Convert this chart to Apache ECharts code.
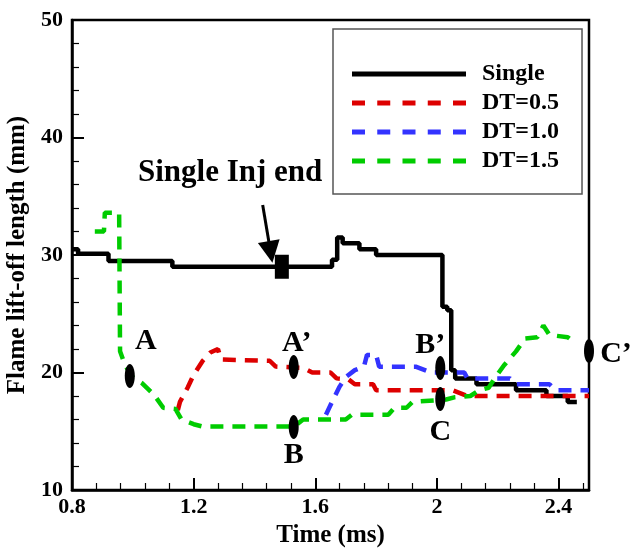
<!DOCTYPE html>
<html><head><meta charset="utf-8">
<script src="https://cdn.jsdelivr.net/npm/echarts@6/dist/echarts.min.js"></script>
<style>html,body{margin:0;padding:0;background:#fff}#c{width:630px;height:548px}</style>
</head><body><div id="c"></div>
<script>
// ---- data ----
const seriesNames = ['Single', 'DT=0.5', 'DT=1.0', 'DT=1.5'];
const singleData = [[0.8,30.5],[0.82,30.1],[0.92,29.5],[1.13,29.0],[1.655,29.6],[1.672,31.5],[1.69,31.0],[1.745,30.5],[1.80,30.0],[2.018,25.6],[2.034,25.3],[2.047,20.2],[2.06,19.5],[2.13,19.0],[2.26,18.5],[2.36,18.0],[2.43,17.5],[2.46,17.5]];
const dt05Data = [[1.148,16.8],[1.155,17.5],[1.18,18.7],[1.20,19.8],[1.23,21.0],[1.255,21.7],[1.28,22.0],[1.29,21.1],[1.45,21.0],[1.47,20.5],[1.56,20.4],[1.59,20.0],[1.65,20.0],[1.67,19.5],[1.71,19.4],[1.73,19.0],[1.79,19.0],[1.80,18.5],[2.05,18.5],[2.10,18.0],[2.5,18.0]];
const dt10Data = [[1.635,16.4],[1.655,17.5],[1.68,18.8],[1.70,19.6],[1.73,20.2],[1.76,20.5],[1.77,21.5],[1.80,21.5],[1.81,20.5],[1.93,20.5],[1.98,20.0],[2.09,20.0],[2.10,19.5],[2.24,19.5],[2.26,19.0],[2.37,19.0],[2.39,18.5],[2.5,18.5]];
const dt15Data = [[0.875,32.0],[0.905,32.0],[0.908,33.6],[0.955,33.6],[0.958,21.8],[0.975,20.6],[1.0,19.6],[1.03,19.1],[1.07,18.1],[1.10,17.0],[1.14,16.9],[1.16,16.0],[1.20,15.6],[1.23,15.4],[1.53,15.4],[1.56,16.0],[1.70,16.0],[1.72,16.4],[1.84,16.4],[1.86,17.0],[1.90,17.0],[1.92,17.5],[2.03,17.7],[2.06,17.9],[2.11,18.0],[2.14,18.5],[2.17,18.7],[2.19,19.5],[2.22,20.6],[2.26,21.8],[2.29,22.9],[2.33,23.0],[2.35,24.0],[2.37,23.2],[2.43,23.0],[2.45,22.6]];
const markerNames = ['A', 'A\u2019', 'B', 'B\u2019', 'C', 'C\u2019'];
const markerValues = [[0.99,19.7],[1.529,20.47],[1.529,15.36],[2.011,20.38],[2.011,17.74],[2.5,21.83]];
const injEndPoint = [[1.49,29.0]];
const injEndText = 'Single Inj end';
const injEndTextPos = [[1.32,37.0]];
const arrowFrom = [1.427,34.26];
const arrowTo = [1.453,30.26];
const xMajorTicks = [0.8,1.2,1.6,2.0,2.4];
const xMinorTicks = [0.88,0.96,1.04,1.12,1.28,1.36,1.44,1.52,1.68,1.76,1.84,1.92,2.08,2.16,2.24,2.32,2.48];
const xTitle = 'Time (ms)';
const yTitle = 'Flame lift-off length (mm)';

// ---- styles ----
const FONT = 'Liberation Serif';
const markerLabelOffsets = [[16,-35],[3,-24],[0,28],[-10,-23],[0,33],[27,3]];
const ellipse = 'path://M5,0 C7.76,0 10,5.37 10,12 C10,18.63 7.76,24 5,24 C2.24,24 0,18.63 0,12 C0,5.37 2.24,0 5,0 Z';
const dash = [13,9];
const dashIcon = 'path://M0,0H13V5H0Z M25.25,0H38.25V5H25.25Z M50.5,0H63.5V5H50.5Z M75.75,0H88.75V5H75.75Z M101,0H114V5H101Z';
const legendIcons = ['rect', dashIcon, dashIcon, dashIcon];

const chart = echarts.init(document.getElementById('c'), null, {renderer:'canvas'});
const option = {
  animation: false,
  grid: {left:72, right:41, top:20, bottom:58, outerBoundsMode:'none', containLabel:false,
         show:true, borderColor:'#000', borderWidth:2.5, backgroundColor:'transparent'},
  legend: {
    data: seriesNames.map((n,i)=>({name:n, icon:legendIcons[i]})), orient:'vertical', left:333, top:29,
    padding:[33,23,21,19], itemWidth:114, itemHeight:5, itemGap:5,
    borderColor:'#555', borderWidth:1.5, backgroundColor:'#fff',
    textStyle:{fontFamily:FONT, fontWeight:'bold', fontSize:24, color:'#000', padding:[0,0,0,11]}
  },
  xAxis: [{
    type:'value', min:0.8, max:2.5, position:'bottom',
    axisLine:{show:true, lineStyle:{color:'#000', width:2.5}},
    axisTick:{show:true, inside:true, length:12, customValues:xMajorTicks, lineStyle:{color:'#000', width:2}},
    axisLabel:{customValues:xMajorTicks, fontFamily:FONT, fontWeight:'bold', fontSize:22, color:'#000', margin:6},
    splitLine:{show:false},
    name:xTitle, nameLocation:'middle', nameGap:25,
    nameTextStyle:{fontFamily:FONT, fontWeight:'bold', fontSize:25, color:'#000'}
  },{
    type:'value', min:0.8, max:2.5, position:'bottom',
    axisLine:{show:false},
    axisTick:{show:true, inside:true, length:7, customValues:xMinorTicks, lineStyle:{color:'#000', width:1.2}},
    axisLabel:{show:false}, splitLine:{show:false}
  }],
  yAxis: {
    type:'value', min:10, max:50, interval:10,
    axisLine:{show:true, lineStyle:{color:'#000', width:2.5}},
    axisTick:{show:true, inside:true, length:12, lineStyle:{color:'#000', width:2}},
    minorTick:{show:true, splitNumber:5, length:7, lineStyle:{color:'#000', width:1.2}},
    axisLabel:{fontFamily:FONT, fontWeight:'bold', fontSize:22, color:'#000', margin:9},
    splitLine:{show:false},
    name:yTitle, nameLocation:'middle', nameGap:40, nameRotate:90,
    nameTextStyle:{fontFamily:FONT, fontWeight:'bold', fontSize:25, color:'#000'}
  },
  series: [
    {name:seriesNames[0], type:'line', step:'end', data:singleData, symbol:'none',
     lineStyle:{color:'#000', width:4.5, type:'solid'}, itemStyle:{color:'#000'}, z:3},
    {name:seriesNames[1], type:'line', data:dt05Data, symbol:'none',
     lineStyle:{color:'#dd0000', width:4.5, type:dash}, itemStyle:{color:'#dd0000'}, z:3},
    {name:seriesNames[2], type:'line', data:dt10Data, symbol:'none',
     lineStyle:{color:'#3333ff', width:4.5, type:dash}, itemStyle:{color:'#3333ff'}, z:3},
    {name:seriesNames[3], type:'line', data:dt15Data, symbol:'none',
     lineStyle:{color:'#00cc00', width:4.5, type:dash}, itemStyle:{color:'#00cc00'}, z:3},
    {name:'markers', type:'scatter', symbol:ellipse, symbolSize:[10,24], symbolKeepAspect:false,
     itemStyle:{color:'#000', opacity:1}, z:5,
     data: markerValues.map((v,i)=>({name:markerNames[i], value:v,
       label:{show:true, position:'inside', offset:markerLabelOffsets[i], formatter:'{b}',
              fontFamily:FONT, fontWeight:'bold', fontSize:30, color:'#000', opacity:1}}))},
    {name:'injEnd', type:'scatter', symbol:'rect', symbolSize:[14,24], itemStyle:{color:'#000', opacity:1}, z:5,
     data: injEndPoint,
     markLine:{silent:true, symbol:['none','triangle'], symbolSize:22,
       lineStyle:{color:'#000', width:3, type:'solid', opacity:1}, itemStyle:{color:'#000', opacity:1}, label:{show:false},
       data:[[{coord:arrowFrom},{coord:arrowTo}]]}},
    {name:'injText', type:'scatter', symbol:'circle', symbolSize:1, itemStyle:{color:'rgba(0,0,0,0)', opacity:1}, z:5,
     data: injEndTextPos.map(v=>({name:injEndText, value:v})),
     label:{show:true, position:'inside', formatter:'{b}', fontFamily:FONT, fontWeight:'bold', fontSize:31, color:'#000', opacity:1}}
  ]
};
chart.setOption(option);
</script></body></html>
